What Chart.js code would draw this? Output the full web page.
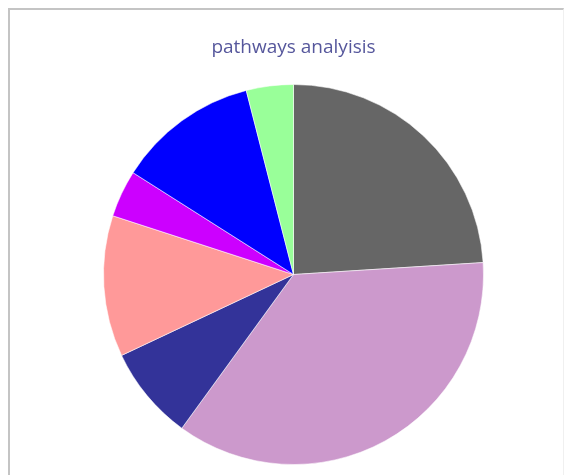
<!DOCTYPE html>
<html>
<head>
<meta charset="utf-8">
<script src="https://cdn.jsdelivr.net/npm/chart.js@4/dist/chart.umd.min.js"></script>
<style>
  html, body { margin: 0; padding: 0; background: #fff; }
  #wrap { position: relative; width: 573px; height: 475px; }
  #frame {
    position: absolute; left: 8px; top: 8px; width: 556px; height: 475px;
    border-left: 2px solid #c4c4c4; border-top: 2px solid #c4c4c4;
    border-right: 1px solid #f0f0f0; box-sizing: border-box;
  }
  canvas { position: absolute; left: 0; top: 0; }
</style>
</head>
<body>
<div id="wrap">
  <div id="frame"></div>
  <canvas id="pie" width="573" height="475"></canvas>
</div>
<script>
// slices, clockwise from 12 o'clock
const pathways = ["Pathway A", "Pathway B", "Pathway C", "Pathway D", "Pathway E", "Pathway F", "Pathway G"];
const counts = [6, 9, 2, 3, 1, 3, 1];
const sliceColors = ["#666666", "#cc99cc", "#333399", "#ff9999", "#cc00ff", "#0000ff", "#99ff99"];

const ctx = document.getElementById("pie");
const chart = new Chart(ctx, {
  type: "pie",
  data: {
    labels: pathways,
    datasets: [
      {
        data: counts,
        backgroundColor: sliceColors,
        borderColor: "rgba(255,255,255,0.55)",
        borderWidth: 1,
      },
    ],
  },
  options: {
    responsive: false,
    animation: false,
    layout: { padding: { top: 0, left: 14, right: 0, bottom: 10 } },
    plugins: {
      legend: { display: false },
      tooltip: { enabled: false },
      title: {
        display: true,
        text: "pathways analyisis",
        color: "#56579c",
        font: { family: "'Open Sans', sans-serif", size: 19, weight: "normal", lineHeight: 1.2 },
        padding: { top: 36.6, bottom: 24.6 },
      },
    },
  },
});
</script>
</body>
</html>
